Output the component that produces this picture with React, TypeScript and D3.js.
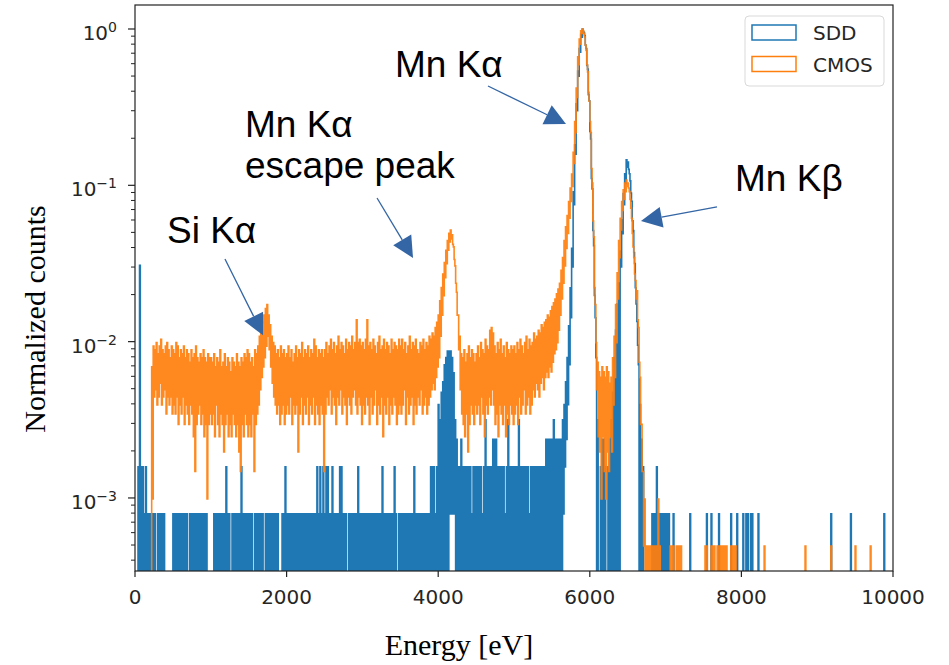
import React from 'react';
import * as d3 from 'd3';

// Spectra are histograms with 20 eV intervals from 0 to 10 keV.
// Within each interval the fine bins swing between an upper and a lower count,
// so every interval stores both: the "high" and the "low" count.
const BIN_WIDTH = 20;
const ENERGY_MAX = 10000;

const sddHigh = [
  0,0,2,39,2,2,1,2,1,1,1,1,1,1,0,1,1,1,1,1,0,0,0,0,0,
  1,1,1,1,1,1,1,1,1,1,0,1,1,1,1,1,1,1,1,1,1,1,1,0,0,
  0,0,1,1,1,1,1,1,1,1,2,1,1,0,1,1,1,1,1,1,2,1,1,1,1,
  1,1,1,0,1,1,1,1,1,1,0,1,1,1,1,1,1,1,1,1,0,0,1,1,2,
  1,1,1,1,1,1,1,1,1,1,1,1,1,1,1,1,1,1,1,1,2,1,2,1,2,
  1,2,2,1,1,2,1,1,1,1,2,2,1,1,1,0,1,1,1,1,1,1,2,1,1,
  1,1,1,1,1,1,1,1,1,1,1,1,1,2,1,1,1,1,1,1,1,2,1,0,1,
  1,1,1,1,1,1,1,1,1,2,1,1,1,1,1,1,1,1,1,1,2,2,2,1,2,
  5,4,6,7,9,10,11,11,11,10,8,4,3,2,2,3,2,2,2,2,2,2,1,2,2,
  2,2,2,2,1,2,4,2,2,2,2,3,3,3,2,2,2,2,2,1,2,4,2,2,2,
  2,2,2,4,2,2,2,2,2,2,1,2,2,2,2,2,2,2,2,2,2,3,3,3,3,
  3,4,3,3,3,3,3,4,5,7,10,16,28,50,115,230,420,680,950,1170,1265,1200,1000,740,480,
  280,140,65,25,10,4,0,2,3,3,2,0,2,3,4,6,10,15,22,30,48,76,112,150,184,
  178,150,113,75,47,28,17,9,5,3,2,0,0,0,0,0,1,1,1,2,1,1,1,1,1,
  1,1,1,0,0,1,0,0,0,0,0,0,0,0,0,0,1,0,0,0,0,0,0,0,0,
  0,0,1,0,0,1,0,0,0,0,1,0,0,0,0,0,0,0,1,0,0,0,1,0,0,
  0,1,0,1,1,0,1,1,0,0,0,1,0,0,0,0,0,0,0,0,0,0,0,0,0,
  0,0,0,0,0,0,0,0,0,0,0,0,0,0,0,0,0,0,0,0,0,0,0,0,0,
  0,0,0,0,0,0,0,0,0,1,0,0,0,0,0,0,0,0,0,0,0,0,1,0,0,
  0,0,0,0,0,0,0,0,0,0,0,0,0,0,0,0,0,0,0,1,0,0,0,0,0,
];

const sddLow = [
  0,0,0,0,0,0,0,0,0,0,0,0,0,0,0,0,0,0,0,0,0,0,0,0,0,
  0,0,0,0,0,0,0,0,0,0,0,0,0,0,0,0,0,0,0,0,0,0,0,0,0,
  0,0,0,0,0,0,0,0,0,0,0,0,0,0,0,0,0,0,0,0,0,0,0,0,0,
  0,0,0,0,0,0,0,0,0,0,0,0,0,0,0,0,0,0,0,0,0,0,0,0,0,
  0,0,0,0,0,0,0,0,0,0,0,0,0,0,0,0,0,0,0,0,0,0,0,0,0,
  0,0,0,0,0,0,0,0,0,0,0,0,0,0,0,0,0,0,0,0,0,0,0,0,0,
  0,0,0,0,0,0,0,0,0,0,0,0,0,0,0,0,0,0,0,0,0,0,0,0,0,
  0,0,0,0,0,0,0,0,0,0,0,0,0,0,0,0,0,0,0,0,0,0,0,0,0,
  0,0,0,0,0,0,0,1,1,1,1,0,0,0,0,0,0,0,0,0,0,0,0,0,0,
  0,0,0,0,0,0,0,0,0,0,0,0,0,0,0,0,0,0,0,0,0,0,0,0,0,
  0,0,0,0,0,0,0,0,0,0,0,0,0,0,0,0,0,0,0,0,0,0,0,0,0,
  0,0,0,0,0,0,0,1,2,3,5,9,18,38,95,200,380,630,900,1120,1220,1150,950,700,440,
  250,120,52,18,0,0,0,0,0,0,0,0,0,0,0,0,0,0,0,0,38,62,95,130,165,
  160,135,100,65,40,22,12,0,0,0,0,0,0,0,0,0,0,0,0,0,0,0,0,0,0,
  0,0,0,0,0,0,0,0,0,0,0,0,0,0,0,0,0,0,0,0,0,0,0,0,0,
  0,0,0,0,0,0,0,0,0,0,0,0,0,0,0,0,0,0,0,0,0,0,0,0,0,
  0,0,0,0,0,0,0,0,0,0,0,0,0,0,0,0,0,0,0,0,0,0,0,0,0,
  0,0,0,0,0,0,0,0,0,0,0,0,0,0,0,0,0,0,0,0,0,0,0,0,0,
  0,0,0,0,0,0,0,0,0,0,0,0,0,0,0,0,0,0,0,0,0,0,0,0,0,
  0,0,0,0,0,0,0,0,0,0,0,0,0,0,0,0,0,0,0,0,0,0,0,0,0,
];

const cmosHigh = [
  0,0,0,0,0,0,0,0,0,0,0,14,19,18,20,17,19,21,18,17,19,20,18,16,19,
  18,17,20,19,16,18,17,19,16,18,17,15,18,16,17,19,16,15,17,16,18,16,15,17,16,
  16,15,17,14,16,15,18,14,15,17,14,16,15,13,16,15,14,17,15,14,16,15,17,16,18,
  17,15,16,14,18,17,19,22,24,27,30,33,35,30,26,22,20,19,17,18,16,19,17,18,16,
  17,19,16,18,15,17,19,16,18,17,20,16,18,17,19,16,18,17,21,19,16,18,17,18,16,
  18,20,17,19,21,18,20,17,19,22,18,20,19,17,21,18,20,19,22,18,20,28,20,21,19,
  20,18,21,28,19,20,18,21,19,17,20,22,18,19,21,18,20,19,17,21,18,20,19,18,21,
  19,21,18,20,17,19,22,18,20,19,21,18,17,20,19,21,18,20,19,22,21,23,22,25,27,
  30,37,45,55,65,78,90,100,105,98,82,62,42,30,22,17,16,18,15,17,19,16,18,17,15,
  17,19,16,20,18,17,21,19,18,24,25,23,19,17,20,18,21,17,19,16,20,18,17,19,18,
  19,17,20,18,21,19,17,20,22,18,21,19,20,23,21,22,24,23,26,25,27,28,30,29,32,
  34,36,38,41,44,48,58,70,90,110,130,160,195,240,330,520,850,1350,1750,1980,2030,1900,1600,1200,800,
  520,260,120,45,20,15,13,12,14,13,12,14,13,11,12,16,22,35,56,90,125,160,190,210,219,
  210,185,145,100,70,50,43,25,12,6,3,2,1,1,1,1,1,1,1,1,2,1,0,0,0,
  0,0,0,1,1,1,0,1,1,1,1,0,0,0,0,0,0,0,0,0,0,0,0,0,0,
  0,1,1,0,0,1,1,1,0,1,1,1,1,1,1,1,0,0,1,1,1,1,0,0,0,
  0,0,0,0,0,0,0,0,0,0,0,0,0,0,0,1,0,0,0,0,0,0,0,0,0,
  0,0,0,0,0,0,0,0,0,0,0,0,0,0,0,0,0,1,0,0,0,0,0,0,0,
  0,0,0,0,0,0,0,0,0,1,0,0,0,0,0,0,0,0,0,0,0,0,0,0,0,
  1,0,0,0,0,0,0,0,0,0,1,0,0,0,0,0,0,0,0,0,0,0,0,0,0,
];

const cmosLow = [
  0,0,0,0,0,0,0,0,0,0,0,2,9,10,8,9,11,8,9,10,7,9,8,9,7,
  8,7,9,6,8,7,9,6,8,7,6,8,7,5,3,6,7,8,6,7,5,6,2,6,7,
  6,7,5,8,6,5,7,6,4,6,7,5,6,5,7,6,5,6,4,3,6,5,7,6,5,
  6,5,7,3,6,7,8,10,12,14,16,19,22,18,14,11,9,8,7,8,6,7,8,6,7,
  8,7,9,6,8,7,8,4,7,9,6,8,7,9,6,8,7,9,6,8,7,6,8,7,3,
  7,9,8,10,7,9,8,6,9,8,10,7,9,8,6,9,8,7,9,10,8,7,9,8,6,
  8,7,9,8,6,9,7,8,10,6,8,7,9,5,8,7,9,6,8,7,9,8,6,7,8,
  7,8,10,6,9,7,8,9,6,8,7,9,8,10,7,8,9,7,8,9,10,11,10,12,14,
  16,22,30,40,52,64,78,88,92,85,68,48,30,18,10,7,6,5,7,4,6,8,7,6,8,
  7,8,6,9,7,5,8,7,9,8,10,8,6,7,5,8,7,6,8,5,7,6,8,7,6,
  7,8,6,9,7,8,10,7,8,9,7,8,10,9,11,10,9,11,12,10,12,13,12,14,13,
  15,17,18,20,24,30,38,48,62,80,100,125,160,200,280,440,740,1200,1620,1900,1970,1800,1480,1080,700,
  440,210,95,35,10,5,4,2,5,3,2,4,3,5,4,8,12,20,38,70,105,140,165,185,200,
  195,165,125,82,55,38,28,15,6,3,1,0,0,0,0,0,0,0,0,0,0,0,0,0,0,
  0,0,0,0,0,0,0,0,0,0,0,0,0,0,0,0,0,0,0,0,0,0,0,0,0,
  0,0,0,0,0,0,0,0,0,0,0,0,0,0,0,0,0,0,0,0,0,0,0,0,0,
  0,0,0,0,0,0,0,0,0,0,0,0,0,0,0,0,0,0,0,0,0,0,0,0,0,
  0,0,0,0,0,0,0,0,0,0,0,0,0,0,0,0,0,0,0,0,0,0,0,0,0,
  0,0,0,0,0,0,0,0,0,0,0,0,0,0,0,0,0,0,0,0,0,0,0,0,0,
  0,0,0,0,0,0,0,0,0,0,0,0,0,0,0,0,0,0,0,0,0,0,0,0,0,
];

const xTicks = [0, 2000, 4000, 6000, 8000, 10000];
const yDecades = [0, -1, -2, -3];

const seriesNames = ['SDD', 'CMOS'];
const seriesColors = ['#1f77b4', '#ff7f0e'];

// Peak labels: text anchor, arrow tail and arrow tip, in (energy, normalized counts)
const peakLabels = [
  { lines: ['Mn Kα'], at: [3430, 0.493], tail: [4657, 0.432], tip: [5686, 0.247] },
  { lines: ['Mn Kα', 'escape peak'], at: [1451, 0.2038], tail: [3193, 0.083], tip: [3668, 0.0343] },
  { lines: ['Si Kα'], at: [422, 0.0428], tail: [1187, 0.0338], tip: [1689, 0.011] },
  { lines: ['Mn Kβ'], at: [7916, 0.092], tail: [7678, 0.0727], tip: [6675, 0.0591] },
];

const W = 949;
const H = 665;
const plot = { left: 135, right: 893, top: 5, bottom: 571 };
const Y_MIN = 3.41e-4;
const Y_MAX = 1.424;
const ARROW_COLOR = '#3465a4';

const tickFont = '"DejaVu Sans", sans-serif';
const labelFont = '"Liberation Serif", "Times New Roman", serif';
const noteFont = '"Liberation Sans", Arial, sans-serif';

export default function App() {
  const x = d3.scaleLinear().domain([0, ENERGY_MAX]).range([plot.left, plot.right]);
  const y = d3.scaleLog().domain([Y_MIN, Y_MAX]).range([plot.bottom, plot.top]);
  const yFloor = plot.bottom + 12;

  const stepPath = (high: number[], low: number[]) => {
    const norm = d3.max(high) as number;
    const yOf = (c: number) => (c > 0 ? y(c / norm) : yFloor);
    const pts: [number, number][] = [[x(0), yFloor]];
    high.forEach((h, i) => {
      const e0 = i * BIN_WIDTH;
      const em = e0 + BIN_WIDTH / 2;
      const e1 = e0 + BIN_WIDTH;
      const yh = yOf(h);
      const yl = yOf(low[i]);
      pts.push([x(e0), yh], [x(em), yh], [x(em), yl], [x(e1), yl]);
    });
    pts.push([x(ENERGY_MAX), yFloor]);
    return d3.line()(pts) as string;
  };

  const sddPath = stepPath(sddHigh, sddLow);
  const cmosPath = stepPath(cmosHigh, cmosLow);

  const minorTicks: number[] = [];
  for (let k = -4; k <= 0; k++) {
    for (let m = 2; m <= 9; m++) {
      const v = m * Math.pow(10, k);
      if (v > Y_MIN && v < Y_MAX) minorTicks.push(v);
    }
  }

  const arrow = (tail: number[], tip: number[]) => {
    const tx = x(tail[0]);
    const ty = y(tail[1]);
    const px = x(tip[0]);
    const py = y(tip[1]);
    const len = Math.hypot(px - tx, py - ty);
    const ux = (px - tx) / len;
    const uy = (py - ty) / len;
    const headLen = 21;
    const half = 10.5;
    const bx = px - ux * headLen;
    const by = py - uy * headLen;
    const head = [
      [px, py],
      [bx - uy * half, by + ux * half],
      [bx + uy * half, by - ux * half],
    ];
    return { tx, ty, bx, by, head: head.map((p) => p.join(',')).join(' ') };
  };

  return (
    <svg
      width={W}
      height={H}
      viewBox={`0 0 ${W} ${H}`}
      style={{ position: 'absolute', left: 0, top: 0, background: '#fff' }}
    >
      <defs>
        <clipPath id="plot-area">
          <rect x={plot.left} y={plot.top} width={plot.right - plot.left} height={plot.bottom - plot.top} />
        </clipPath>
      </defs>
      <rect x={0} y={0} width={W} height={H} fill="#fff" />

      <g clipPath="url(#plot-area)">
        <path d={sddPath} fill="none" stroke={seriesColors[0]} strokeWidth={1.6} />
        <path d={cmosPath} fill="none" stroke={seriesColors[1]} strokeWidth={1.6} strokeOpacity={0.93} />
      </g>

      {/* frame */}
      <rect
        x={plot.left}
        y={plot.top}
        width={plot.right - plot.left}
        height={plot.bottom - plot.top}
        fill="none"
        stroke="#222"
        strokeWidth={1.2}
      />

      {/* x axis */}
      {xTicks.map((t) => (
        <g key={`xt${t}`}>
          <line x1={x(t)} x2={x(t)} y1={plot.bottom} y2={plot.bottom + 6} stroke="#222" strokeWidth={1.2} />
          <text x={x(t)} y={604} textAnchor="middle" fontFamily={tickFont} fontSize={20} fill="#262626">
            {t}
          </text>
        </g>
      ))}

      {/* y axis */}
      {minorTicks.map((v) => (
        <line key={`ym${v}`} x1={plot.left - 4} x2={plot.left} y1={y(v)} y2={y(v)} stroke="#222" strokeWidth={1} />
      ))}
      {yDecades.map((k) => {
        const ty = y(Math.pow(10, k));
        return (
          <g key={`yt${k}`}>
            <line x1={plot.left - 7} x2={plot.left} y1={ty} y2={ty} stroke="#222" strokeWidth={1.2} />
            <text x={117} y={ty + 11} textAnchor="end" fontFamily={tickFont} fontSize={20} fill="#262626">
              10
              <tspan dy={-8} fontSize={14}>
                {k === 0 ? '0' : `\u2212${-k}`}
              </tspan>
            </text>
          </g>
        );
      })}

      {/* axis titles */}
      <text x={459} y={655} textAnchor="middle" fontFamily={labelFont} fontSize={30} fill="#000">
        Energy [eV]
      </text>
      <text
        transform={`translate(45, 319) rotate(-90)`}
        textAnchor="middle"
        fontFamily={labelFont}
        fontSize={30}
        fill="#000"
      >
        Normalized counts
      </text>

      {/* legend */}
      <g>
        <rect x={745} y={16} width={139} height={70} rx={4} fill="#fff" fillOpacity={0.8} stroke="#d9d9d9" strokeWidth={1} />
        {seriesNames.map((name, i) => (
          <g key={name}>
            <rect
              x={752}
              y={25 + i * 31.5}
              width={44}
              height={15}
              fill="none"
              stroke={seriesColors[i]}
              strokeWidth={1.5}
            />
            <text x={813} y={40 + i * 32} fontFamily={tickFont} fontSize={20} fill="#262626">
              {name}
            </text>
          </g>
        ))}
      </g>

      {/* peak labels */}
      {peakLabels.map((p, i) => {
        const a = arrow(p.tail, p.tip);
        return (
          <g key={`pk${i}`}>
            <text x={x(p.at[0])} y={y(p.at[1])} fontFamily={noteFont} fontSize={37} fill="#000">
              {p.lines.map((ln, j) => (
                <tspan key={j} x={x(p.at[0])} dy={j === 0 ? 0 : 41}>
                  {ln}
                </tspan>
              ))}
            </text>
            <line x1={a.tx} y1={a.ty} x2={a.bx} y2={a.by} stroke={ARROW_COLOR} strokeWidth={1.3} />
            <polygon points={a.head} fill={ARROW_COLOR} />
          </g>
        );
      })}
    </svg>
  );
}
